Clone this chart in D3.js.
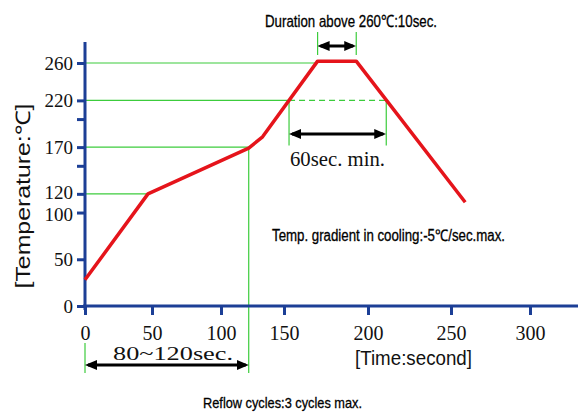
<!DOCTYPE html>
<html lang="en">
<head>
<meta charset="UTF-8">
<title>Reflow profile</title>
<script src="https://d3js.org/d3.v7.min.js"></script>
<style>
  body { margin: 0; background: #fff; }
  text { font-family: "Liberation Sans", Arial, sans-serif; fill: #111; }
  .serif { font-family: "Liberation Serif", "Times New Roman", serif; }
  .note { fill: #000; stroke: #000; stroke-width: 0.3; }
</style>
</head>
<body>
<script>
const xTicks = [0, 50, 100, 150, 200, 250, 300];
const yTicks = [0, 50, 100, 120, 150, 170, 200, 220, 260];
const yLabels = [0, 50, 100, 120, 170, 220, 260];

// time (s), temperature (°C)
const profile = [[0, 28], [47, 120], [122, 169], [133, 181], [170, 262], [193, 262], [259, 111]];

// horizontal guides: [temperature, time where it meets the curve]
const hGuides = [[260, 170], [220, 153], [170, 122], [120, 47]];
const preheat = [0, 122];     // 80~120 sec
const above220 = [153, 211];  // 60 sec min
const above260 = [170, 193];  // 10 sec

const w = 578, h = 416;
const blue = "#1c3f96", green = "#3ccc3c", red = "#e5141b";

// the x axis of the original drawing is not evenly spaced
const x = d3.scaleLinear().domain(xTicks).range([85, 152, 221, 284, 368, 451, 530]);
const y = d3.scaleLinear().domain([0, 260]).range([306, 63]);

const svg = d3.select("body").append("svg")
  .attr("width", w).attr("height", h);

const defs = svg.append("defs");
defs.append("marker")
  .attr("id", "head")
  .attr("viewBox", "0 0 12 10")
  .attr("refX", 9).attr("refY", 5)
  .attr("markerWidth", 12).attr("markerHeight", 10)
  .attr("markerUnits", "userSpaceOnUse")
  .attr("orient", "auto-start-reverse")
  .append("path").attr("d", "M0,0 L12,5 L0,10 z").attr("fill", "#000");

// green guides
const g = svg.append("g").attr("stroke", green).attr("stroke-width", 1.2).attr("fill", "none");
hGuides.forEach(([temp, t]) => {
  g.append("line").attr("x1", x(0)).attr("x2", x(t)).attr("y1", y(temp)).attr("y2", y(temp));
});
g.append("line")
  .attr("x1", x(above220[0])).attr("x2", x(above220[1]))
  .attr("y1", y(220)).attr("y2", y(220))
  .attr("stroke-dasharray", "6,4");
above220.forEach(t => {
  g.append("line").attr("x1", x(t)).attr("x2", x(t)).attr("y1", y(220)).attr("y2", y(220) + 45);
});
above260.forEach(t => {
  g.append("line").attr("x1", x(t)).attr("x2", x(t)).attr("y1", 32).attr("y2", 55);
});
g.append("line").attr("x1", x(preheat[1])).attr("x2", x(preheat[1])).attr("y1", y(170)).attr("y2", 373);
g.append("line").attr("x1", x(preheat[0])).attr("x2", x(preheat[0])).attr("y1", 343).attr("y2", 373);

// axes
const xAxis = d3.axisBottom(x).tickValues(xTicks).tickSize(9).tickPadding(11);
const gx = svg.append("g").attr("transform", `translate(0,${y(0)})`).call(xAxis);
gx.select(".domain").remove();
gx.selectAll(".tick line").attr("stroke", blue).attr("stroke-width", 3);
gx.selectAll(".tick text").attr("class", "serif").attr("font-size", 20).attr("fill", "#111");

const yAxis = d3.axisLeft(y).tickValues(yTicks).tickSize(8).tickPadding(4)
  .tickFormat(d => yLabels.includes(d) ? d : "");
const gy = svg.append("g").attr("transform", `translate(${x(0)},0)`).call(yAxis);
gy.select(".domain").remove();
gy.selectAll(".tick line").attr("stroke", blue).attr("stroke-width", 3);
gy.selectAll(".tick text").attr("class", "serif").attr("font-size", 19).attr("fill", "#111")
  // 120 and 100 sit close together; nudge them apart a little
  .attr("y", d => d === 120 ? -1.5 : d === 100 ? 2 : 0);

svg.append("line").attr("x1", x(0)).attr("x2", x(0)).attr("y1", 42).attr("y2", y(0) + 4)
  .attr("stroke", blue).attr("stroke-width", 3);
svg.append("line").attr("x1", x(0) - 2).attr("x2", w).attr("y1", y(0)).attr("y2", y(0))
  .attr("stroke", blue).attr("stroke-width", 3);

// profile
svg.append("path")
  .datum(profile)
  .attr("fill", "none")
  .attr("stroke", red)
  .attr("stroke-width", 3.5)
  .attr("stroke-linejoin", "round")
  .attr("d", d3.line().x(d => x(d[0])).y(d => y(d[1])));

// double arrows
const arrows = [[above260, 46], [above220, 134], [preheat, 365]];
arrows.forEach(([[t0, t1], yy]) => {
  svg.append("line")
    .attr("x1", x(t0) + 3).attr("x2", x(t1) - 3)
    .attr("y1", yy).attr("y2", yy)
    .attr("stroke", "#000").attr("stroke-width", 3)
    .attr("marker-start", "url(#head)").attr("marker-end", "url(#head)");
});

// annotations, squeezed to their width in the original
function note(str, x0, y0, size, len, cls) {
  return svg.append("text")
    .attr("class", cls)
    .attr("x", x0).attr("y", y0).attr("font-size", size)
    .attr("textLength", len).attr("lengthAdjust", "spacingAndGlyphs")
    .text(str);
}

note("Duration above 260℃:10sec.", 265, 27, 17, 172, "note");
note("60sec. min.", 290, 166, 20, 95, "serif");
note("80~120sec.", 113, 360, 19, 120, "serif");
note("Temp. gradient in cooling:-5℃/sec.max.", 272, 241, 16, 233, "note");
note("[Time:second]", 355, 365, 20, 117).attr("fill", "#2a1d3a");
note("Reflow cycles:3 cycles max.", 203, 408, 15, 159, "note");

svg.append("text").attr("transform", "translate(30,196) rotate(-90)")
  .attr("text-anchor", "middle").attr("font-size", 20).attr("fill", "#2a1d3a")
  .attr("textLength", 185).attr("lengthAdjust", "spacingAndGlyphs").text("[Temperature:℃]");
</script>
</body>
</html>
